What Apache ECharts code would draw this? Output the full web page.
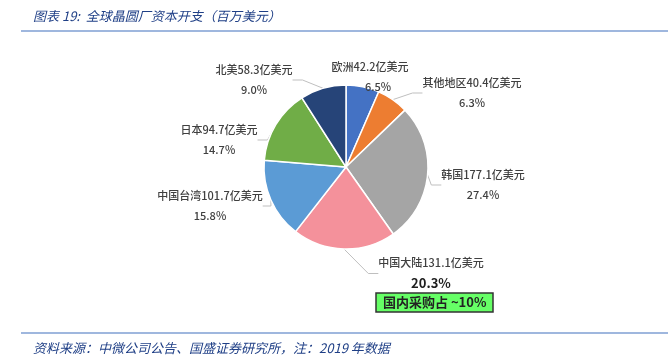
<!DOCTYPE html>
<html><head><meta charset="utf-8">
<script src="https://cdn.jsdelivr.net/npm/echarts@6/dist/echarts.min.js"></script>
<style>html,body{margin:0;padding:0;background:#fff}#c{width:668px;height:356px}</style>
</head><body><div id="c"></div>
<script>
const regions = ['欧洲', '其他地区', '韩国', '中国大陆', '中国台湾', '日本', '北美'];
const capex = [42.2, 40.4, 177.1, 131.1, 101.7, 94.7, 58.3];
const sliceColors = ['#4472C4', '#ED7D31', '#A5A5A5', '#F4919B', '#5B9BD5', '#70AD47', '#264478'];
const titleText = '图表 19:  全球晶圆厂资本开支（百万美元）';
const sourceText = '资料来源：中微公司公告、国盛证券研究所，注：2019 年数据';
const noteText = '国内采购占 ~10%';

// label anchor positions (center x, top y) by slice index
const labelAnchors = [[370, 57], [472, 73], [483, 165], [431, 253], [210, 186], [219, 120], [254, 60]];
const pctStyles = ['q', 'p', 'p', 'b', 'p', 'p', 'p'];
const showLines = [false, true, true, true, true, true, true];

const chart = echarts.init(document.getElementById('c'));
const FONT = '"Noto Sans CJK SC", "Microsoft YaHei", sans-serif';
chart.setOption({
  animation: false,
  title: [
    { text: titleText, left: 28, top: 5, textStyle: { fontFamily: FONT, fontSize: 13, fontStyle: 'italic', fontWeight: 'normal', color: '#1F3F86' } },
    { text: sourceText, left: 28, top: 337, textStyle: { fontFamily: FONT, fontSize: 13, fontStyle: 'italic', fontWeight: 'normal', color: '#1F3F86' } },
    { text: noteText, left: 376, top: 293, padding: [3, 7, 3, 7], backgroundColor: '#66FF66', borderColor: '#333', borderWidth: 1.5,
      textStyle: { fontFamily: FONT, fontSize: 13, fontWeight: 'bold', color: '#222' } }
  ],
  graphic: [
    { type: 'line', shape: { x1: 21, y1: 31, x2: 668, y2: 31 }, style: { stroke: '#7F9FD3', lineWidth: 1.5 } },
    { type: 'line', shape: { x1: 21, y1: 333, x2: 668, y2: 333 }, style: { stroke: '#7F9FD3', lineWidth: 1.5 } }
  ],
  series: [{
    type: 'pie',
    center: [346, 167],
    radius: 82,
    startAngle: 90,
    clockwise: true,
    percentPrecision: 1,
    data: regions.map((r, i) => ({ name: r, value: capex[i], itemStyle: { color: sliceColors[i] }, labelLine: { show: showLines[i] } })),
    itemStyle: { borderColor: '#fff', borderWidth: 1.5 },
    label: {
      show: true,
      position: 'outside',
      fontFamily: FONT,
      color: '#404040',
      formatter: p => '{n|' + p.name + p.value + '亿美元}\n{' + pctStyles[p.dataIndex] + '|' + p.percent.toFixed(1) + '%}',
      rich: {
        n: { fontFamily: FONT, fontSize: 11, fontWeight: 500, color: '#404040', lineHeight: 20, align: 'center' },
        p: { fontFamily: FONT, fontSize: 11, fontWeight: 500, color: '#404040', lineHeight: 20, align: 'center' },
        q: { fontFamily: FONT, fontSize: 11, fontWeight: 500, color: '#404040', lineHeight: 20, align: 'center', padding: [0, 0, 0, 16] },
        b: { fontFamily: FONT, fontSize: 13, fontWeight: 'bold', color: '#202020', lineHeight: 20, align: 'center' }
      }
    },
    labelLine: { show: true, length: 10, length2: 10, lineStyle: { color: '#BFBFBF', width: 1 } },
    labelLayout: p => ({ x: labelAnchors[p.dataIndex][0], y: labelAnchors[p.dataIndex][1], align: 'center', verticalAlign: 'top' })
  }]
});
</script></body></html>
